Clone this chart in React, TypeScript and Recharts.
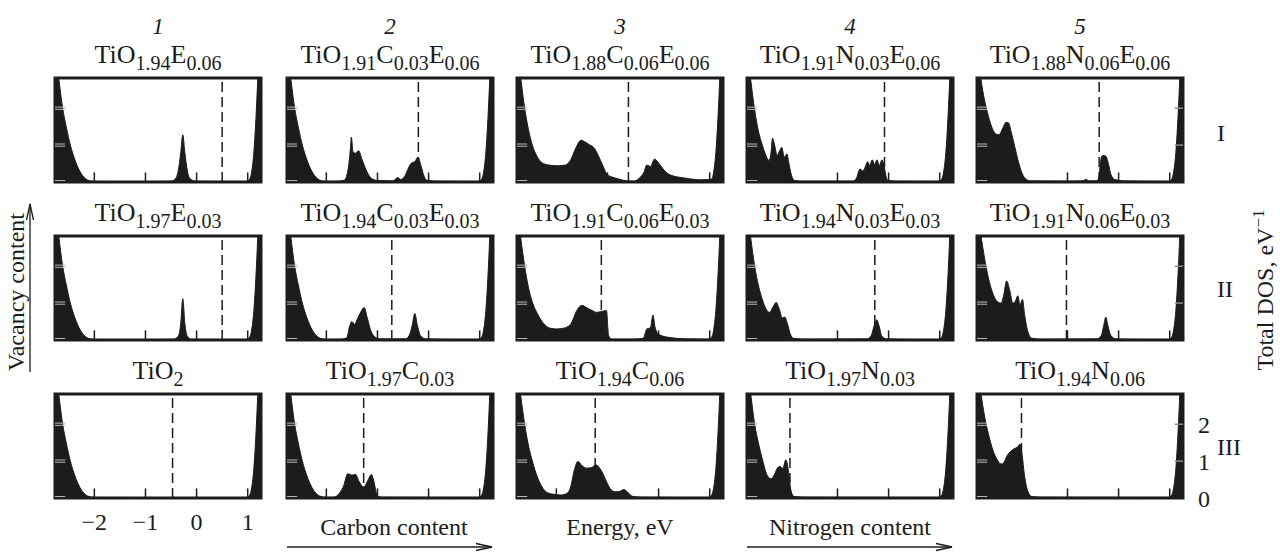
import { ComposedChart, Area, XAxis, YAxis, ReferenceLine, ReferenceArea } from 'recharts';

const INK = '#1c1c1c';
const FONT = '"Liberation Serif", "DejaVu Serif", serif';

// axis ranges (eV / states per eV)
const E_MIN = -2.77;
const E_MAX = 1.26;
const DOS_MAX = 2.82;
const energyTicks = [-2, -1, 0, 1];
const dosTicks = [0, 1, 2];

const columnNumbers = ['1', '2', '3', '4', '5'];
const rowLabels = ['I', 'II', 'III'];

// panel titles: [element, index] pairs
const titlesI = [
  [['TiO', '1.94'], ['E', '0.06']],
  [['TiO', '1.91'], ['C', '0.03'], ['E', '0.06']],
  [['TiO', '1.88'], ['C', '0.06'], ['E', '0.06']],
  [['TiO', '1.91'], ['N', '0.03'], ['E', '0.06']],
  [['TiO', '1.88'], ['N', '0.06'], ['E', '0.06']],
];
const titlesII = [
  [['TiO', '1.97'], ['E', '0.03']],
  [['TiO', '1.94'], ['C', '0.03'], ['E', '0.03']],
  [['TiO', '1.91'], ['C', '0.06'], ['E', '0.03']],
  [['TiO', '1.94'], ['N', '0.03'], ['E', '0.03']],
  [['TiO', '1.91'], ['N', '0.06'], ['E', '0.03']],
];
const titlesIII = [
  [['TiO', '2']],
  [['TiO', '1.97'], ['C', '0.03']],
  [['TiO', '1.94'], ['C', '0.06']],
  [['TiO', '1.97'], ['N', '0.03']],
  [['TiO', '1.94'], ['N', '0.06']],
];

// Fermi level (dashed line) per panel
const fermiI = [0.5, -0.2, -0.59, -0.08, -0.38];
const fermiII = [0.5, -0.72, -1.12, -0.27, -1.02];
const fermiIII = [-0.47, -1.27, -1.24, -1.93, -1.9];

// [energy, DOS] points
const valenceEdge = [
  [-2.77, 3.6], [-2.7, 2.85], [-2.62, 2.0], [-2.55, 1.5], [-2.47, 1.0], [-2.38, 0.6],
  [-2.28, 0.28], [-2.18, 0.1], [-2.08, 0.03], [-1.98, 0.015],
];
const conductionEdge = [
  [0.98, 0.015], [1.04, 0.08], [1.08, 0.3], [1.12, 0.8], [1.16, 1.7], [1.2, 2.9], [1.24, 4.2], [1.26, 4.8],
];

const dosI1 = [
  ...valenceEdge,
  [-1.0, 0.01], [-0.5, 0.02], [-0.42, 0.08], [-0.36, 0.3], [-0.31, 0.8], [-0.27, 1.28],
  [-0.23, 0.8], [-0.18, 0.3], [-0.12, 0.08], [0.0, 0.02], [0.5, 0.015],
  ...conductionEdge,
];
const dosI2 = [
  ...valenceEdge,
  [-1.8, 0.02], [-1.65, 0.05], [-1.58, 0.3], [-1.53, 0.9], [-1.51, 1.22], [-1.48, 0.82],
  [-1.43, 0.78], [-1.37, 0.85], [-1.3, 0.6], [-1.23, 0.35], [-1.12, 0.1], [-1.0, 0.04],
  [-0.7, 0.03], [-0.6, 0.12], [-0.55, 0.07], [-0.47, 0.15], [-0.42, 0.3], [-0.34, 0.51],
  [-0.27, 0.55], [-0.21, 0.67], [-0.15, 0.45], [-0.1, 0.2], [-0.04, 0.05], [0.2, 0.02],
  ...conductionEdge,
];
const dosI3 = [
  [-2.77, 3.6], [-2.7, 2.85], [-2.62, 2.0], [-2.55, 1.45], [-2.47, 1.0], [-2.38, 0.7],
  [-2.28, 0.52], [-2.15, 0.46], [-1.98, 0.44], [-1.82, 0.46], [-1.72, 0.6], [-1.62, 0.92],
  [-1.52, 1.13], [-1.43, 1.08], [-1.35, 1.01], [-1.26, 0.92], [-1.18, 0.72], [-1.09, 0.44],
  [-1.01, 0.21], [-0.92, 0.14], [-0.8, 0.09], [-0.63, 0.03], [-0.5, 0.02], [-0.38, 0.1],
  [-0.29, 0.26], [-0.23, 0.46], [-0.16, 0.42], [-0.08, 0.62], [0.03, 0.46], [0.12, 0.3],
  [0.25, 0.18], [0.5, 0.11], [0.84, 0.06],
  ...conductionEdge.slice(1),
];
const dosI4 = [
  [-2.77, 3.6], [-2.7, 2.8], [-2.62, 1.95], [-2.55, 1.4], [-2.47, 1.0], [-2.4, 0.72],
  [-2.34, 0.58], [-2.3, 0.8], [-2.27, 1.19], [-2.23, 1.0], [-2.18, 0.72], [-2.13, 0.85],
  [-2.09, 0.94], [-2.04, 0.67], [-1.99, 0.76], [-1.95, 0.5], [-1.9, 0.18], [-1.84, 0.04],
  [-1.7, 0.02], [-0.7, 0.02], [-0.63, 0.1], [-0.56, 0.35], [-0.5, 0.3], [-0.46, 0.4],
  [-0.41, 0.55], [-0.37, 0.45], [-0.32, 0.6], [-0.27, 0.47], [-0.23, 0.6], [-0.18, 0.45],
  [-0.13, 0.6], [-0.09, 0.45], [-0.05, 0.15], [-0.01, 0.04], [0.2, 0.02],
  ...conductionEdge,
];
const dosI5 = [
  [-2.77, 3.6], [-2.7, 2.85], [-2.62, 2.2], [-2.55, 1.8], [-2.47, 1.45], [-2.4, 1.3],
  [-2.34, 1.28], [-2.27, 1.45], [-2.2, 1.62], [-2.15, 1.6], [-2.1, 1.35], [-2.03, 0.95],
  [-1.96, 0.55], [-1.9, 0.28], [-1.83, 0.1], [-1.72, 0.03], [-1.0, 0.02], [-0.7, 0.03],
  [-0.64, 0.07], [-0.58, 0.03], [-0.44, 0.03], [-0.39, 0.1], [-0.36, 0.45], [-0.33, 0.7],
  [-0.28, 0.72], [-0.24, 0.68], [-0.2, 0.5], [-0.15, 0.2], [-0.08, 0.07], [0.1, 0.03],
  ...conductionEdge,
];

const dosII1 = [
  ...valenceEdge,
  [-1.0, 0.01], [-0.45, 0.02], [-0.36, 0.1], [-0.31, 0.45], [-0.27, 1.12], [-0.23, 0.45],
  [-0.18, 0.1], [-0.1, 0.02], [0.5, 0.015],
  ...conductionEdge,
];
const dosII2 = [
  ...valenceEdge,
  [-1.7, 0.02], [-1.6, 0.06], [-1.55, 0.35], [-1.5, 0.5], [-1.45, 0.42], [-1.4, 0.55],
  [-1.33, 0.75], [-1.26, 0.88], [-1.2, 0.6], [-1.13, 0.25], [-1.05, 0.08], [-0.95, 0.03],
  [-0.45, 0.03], [-0.38, 0.12], [-0.32, 0.4], [-0.27, 0.72], [-0.22, 0.4], [-0.15, 0.1],
  [-0.05, 0.03], [0.5, 0.015],
  ...conductionEdge,
];
const dosII3 = [
  [-2.77, 3.6], [-2.7, 2.8], [-2.62, 2.0], [-2.55, 1.45], [-2.45, 0.95], [-2.37, 0.71],
  [-2.25, 0.45], [-2.12, 0.32], [-2.0, 0.3], [-1.86, 0.32], [-1.72, 0.43], [-1.6, 0.8],
  [-1.5, 0.94], [-1.4, 0.87], [-1.3, 0.8], [-1.21, 0.75], [-1.12, 0.77], [-1.02, 0.8],
  [-0.98, 0.13], [-0.92, 0.02], [-0.5, 0.02], [-0.3, 0.05], [-0.23, 0.3], [-0.16, 0.33],
  [-0.11, 0.68], [-0.07, 0.35], [0.0, 0.16], [0.16, 0.08], [0.55, 0.03], [0.95, 0.02],
  ...conductionEdge.slice(1),
];
const dosII4 = [
  [-2.77, 3.6], [-2.7, 2.8], [-2.62, 2.0], [-2.55, 1.5], [-2.47, 1.1], [-2.4, 0.85],
  [-2.33, 0.75], [-2.26, 0.9], [-2.2, 1.02], [-2.14, 0.85], [-2.08, 0.6], [-2.03, 0.62],
  [-1.98, 0.45], [-1.92, 0.15], [-1.85, 0.04], [-1.6, 0.02], [-0.42, 0.03], [-0.34, 0.12],
  [-0.28, 0.4], [-0.23, 0.55], [-0.19, 0.4], [-0.13, 0.1], [-0.04, 0.03], [0.5, 0.015],
  ...conductionEdge,
];
const dosII5 = [
  [-2.77, 3.6], [-2.7, 2.9], [-2.62, 2.2], [-2.55, 1.7], [-2.47, 1.3], [-2.38, 1.05],
  [-2.3, 1.0], [-2.25, 1.2], [-2.19, 1.6], [-2.13, 1.35], [-2.07, 1.0], [-2.02, 1.05],
  [-1.97, 1.2], [-1.93, 0.95], [-1.88, 1.1], [-1.84, 0.7], [-1.78, 0.25], [-1.7, 0.05],
  [-1.5, 0.02], [-0.42, 0.03], [-0.34, 0.12], [-0.29, 0.4], [-0.25, 0.62], [-0.21, 0.4],
  [-0.15, 0.12], [-0.05, 0.03], [0.5, 0.015],
  ...conductionEdge,
];

const dosIII1 = [...valenceEdge, [0.5, 0.01], ...conductionEdge];
const dosIII2 = [
  ...valenceEdge,
  [-1.85, 0.02], [-1.75, 0.12], [-1.67, 0.3], [-1.58, 0.66], [-1.5, 0.62], [-1.43, 0.64],
  [-1.36, 0.45], [-1.27, 0.3], [-1.18, 0.5], [-1.12, 0.64], [-1.07, 0.45], [-1.01, 0.08],
  [-0.93, 0.02], [0.5, 0.015],
  ...conductionEdge,
];
const dosIII3 = [
  [-2.77, 3.6], [-2.7, 2.8], [-2.62, 2.0], [-2.55, 1.45], [-2.47, 1.0], [-2.38, 0.6],
  [-2.28, 0.3], [-2.18, 0.15], [-2.05, 0.1], [-1.9, 0.08], [-1.8, 0.12], [-1.72, 0.3],
  [-1.65, 0.75], [-1.58, 0.99], [-1.5, 0.88], [-1.41, 0.81], [-1.32, 0.82], [-1.23, 0.9],
  [-1.12, 0.74], [-1.02, 0.45], [-0.95, 0.26], [-0.85, 0.17], [-0.78, 0.17], [-0.68, 0.23],
  [-0.6, 0.15], [-0.5, 0.04], [-0.3, 0.02], [0.5, 0.015],
  ...conductionEdge,
];
const dosIII4 = [
  [-2.77, 3.6], [-2.7, 2.85], [-2.62, 2.0], [-2.54, 1.45], [-2.46, 1.0], [-2.37, 0.6],
  [-2.3, 0.52], [-2.24, 0.62], [-2.18, 0.8], [-2.13, 0.86], [-2.07, 0.8], [-2.01, 1.04],
  [-1.96, 0.75], [-1.91, 0.2], [-1.85, 0.04], [-1.6, 0.02], [0.5, 0.015],
  ...conductionEdge,
];
const dosIII5 = [
  [-2.77, 3.6], [-2.7, 2.9], [-2.62, 2.2], [-2.54, 1.7], [-2.46, 1.3], [-2.38, 1.05],
  [-2.3, 0.92], [-2.25, 0.95], [-2.18, 1.15], [-2.1, 1.28], [-2.02, 1.35], [-1.98, 1.38],
  [-1.93, 1.46], [-1.89, 1.2], [-1.84, 0.6], [-1.78, 0.2], [-1.7, 0.04], [-1.5, 0.02],
  [0.5, 0.015],
  ...conductionEdge,
];

const rows = [
  { titles: titlesI, fermi: fermiI, dos: [dosI1, dosI2, dosI3, dosI4, dosI5] },
  { titles: titlesII, fermi: fermiII, dos: [dosII1, dosII2, dosII3, dosII4, dosII5] },
  { titles: titlesIII, fermi: fermiIII, dos: [dosIII1, dosIII2, dosIII3, dosIII4, dosIII5] },
];

// layout
const PANEL_W = 206;
const PANEL_H = 104;
const PAD = 5;
const colLeft = [55, 287, 517, 747, 977];
const rowTop = [78, 236, 394];

const fmtEnergy = (v: number) => (v < 0 ? `\u2212${-v}` : `${v}`);

function Panel({ points, fermi, showX, showY, lastCol }: any) {
  const data = points.map(([e, dos]: number[]) => ({ e, dos }));
  const xH = showX ? 36 : 0;
  const yW = showY ? 40 : 0;
  const extraBottom = showY ? 16 : 0;
  return (
    <ComposedChart
      width={PANEL_W + 2 * PAD + yW}
      height={PANEL_H + 2 * PAD + xH + extraBottom}
      data={data}
      margin={{ top: PAD, right: PAD, bottom: PAD + extraBottom, left: PAD }}
    >
      <XAxis
        type="number"
        dataKey="e"
        domain={[E_MIN, E_MAX]}
        allowDataOverflow
        ticks={energyTicks}
        interval={0}
        hide={!showX}
        height={36}
        axisLine={false}
        tickLine={false}
        tickSize={6}
        tickMargin={9}
        tick={{ fill: INK, fontSize: 24, fontFamily: FONT }}
        tickFormatter={fmtEnergy}
      />
      <YAxis
        type="number"
        domain={[0, DOS_MAX]}
        allowDataOverflow
        orientation="right"
        ticks={dosTicks}
        interval={0}
        hide={!showY}
        width={40}
        axisLine={false}
        tickLine={false}
        tickSize={6}
        tickMargin={9}
        tick={{ fill: INK, fontSize: 24, fontFamily: FONT, textAnchor: 'start' }}
      />
      <Area
        type="monotone"
        dataKey="dos"
        stroke={INK}
        strokeWidth={1}
        fill={INK}
        fillOpacity={1}
        dot={false}
        activeDot={false}
        isAnimationActive={false}
      />
      {energyTicks.map((t) => (
        <ReferenceLine key={`t${t}`} segment={[{ x: t, y: 0 }, { x: t, y: 0.26 }]} stroke={INK} strokeWidth={1.5} />
      ))}
      {[0.97, 1.03, 1.97, 2.03, 0.04].map((lv) => (
        <ReferenceLine key={`l${lv}`} segment={[{ x: E_MIN, y: lv }, { x: E_MIN + 0.2, y: lv }]} stroke="#b8b8b8" strokeWidth={1} />
      ))}
      {lastCol &&
        [1, 2].map((lv) => (
          <ReferenceLine key={`r${lv}`} segment={[{ x: E_MAX - 0.16, y: lv }, { x: E_MAX, y: lv }]} stroke="#888" strokeWidth={1.5} />
        ))}
      <ReferenceLine x={fermi} stroke={INK} strokeWidth={1.5} strokeDasharray="10 5" />
      <ReferenceArea x1={E_MIN} x2={E_MAX} y1={0} y2={DOS_MAX} fill="none" stroke={INK} strokeWidth={3} ifOverflow="visible" />
    </ComposedChart>
  );
}

function Title({ parts, x, y }: any) {
  const spans: any[] = [];
  parts.forEach(([base, sub]: string[], i: number) => {
    spans.push(
      <tspan key={`b${i}`} dy={i === 0 ? 0 : -7}>
        {base}
      </tspan>
    );
    spans.push(
      <tspan key={`s${i}`} fontSize={20} dy={7}>
        {sub}
      </tspan>
    );
  });
  return (
    <text x={x} y={y} textAnchor="middle" fontSize={26} fontFamily={FONT} fill={INK}>
      {spans}
    </text>
  );
}

function Arrow({ x1, y1, x2, y2 }: any) {
  const dx = x2 - x1;
  const dy = y2 - y1;
  const len = Math.hypot(dx, dy);
  const ux = dx / len;
  const uy = dy / len;
  const bx = x2 - ux * 16;
  const by = y2 - uy * 16;
  return (
    <g stroke={INK} strokeWidth={1.3} fill="none">
      <line x1={x1} y1={y1} x2={x2} y2={y2} />
      <polyline points={`${bx - uy * 3.5},${by + ux * 3.5} ${x2},${y2} ${bx + uy * 3.5},${by - ux * 3.5}`} />
    </g>
  );
}

export default function App() {
  return (
    <div style={{ position: 'absolute', left: 0, top: 0, width: 1280, height: 552, background: '#fff', overflow: 'hidden' }}>
      {rows.map((row, r) =>
        row.dos.map((points, c) => (
          <div key={`${r}-${c}`} style={{ position: 'absolute', left: colLeft[c] - PAD, top: rowTop[r] - PAD }}>
            <Panel points={points} fermi={row.fermi[c]} showX={r === 2 && c === 0} showY={r === 2 && c === 4} lastCol={c === 4} />
          </div>
        ))
      )}
      <svg width={1280} height={552} style={{ position: 'absolute', left: 0, top: 0, pointerEvents: 'none' }}>
        {columnNumbers.map((n, c) => (
          <text key={n} x={colLeft[c] + PANEL_W / 2} y={34} textAnchor="middle" fontSize={23} fontStyle="italic" fontFamily={FONT} fill={INK}>
            {n}
          </text>
        ))}
        {rows.map((row, r) =>
          row.titles.map((parts, c) => <Title key={`t${r}${c}`} parts={parts} x={colLeft[c] + PANEL_W / 2} y={rowTop[r] - 15} />)
        )}
        {rowLabels.map((lab, r) => (
          <text key={lab} x={1217} y={[141, 297, 455][r]} fontSize={24} fontFamily={FONT} fill={INK}>
            {lab}
          </text>
        ))}
        <text transform="translate(1273,290) rotate(-90)" textAnchor="middle" fontSize={24} fontFamily={FONT} fill={INK}>
          Total DOS, eV
          <tspan fontSize={17} dy={-9}>
            {'\u22121'}
          </tspan>
        </text>
        <text transform="translate(24,292) rotate(-90)" textAnchor="middle" fontSize={24} fontFamily={FONT} fill={INK}>
          Vacancy content
        </text>
        <Arrow x1={30} y1={372} x2={30} y2={204} />
        <text x={394} y={535} textAnchor="middle" fontSize={24} fontFamily={FONT} fill={INK}>
          Carbon content
        </text>
        <text x={620} y={535} textAnchor="middle" fontSize={24} fontFamily={FONT} fill={INK}>
          Energy, eV
        </text>
        <text x={850} y={535} textAnchor="middle" fontSize={24} fontFamily={FONT} fill={INK}>
          Nitrogen content
        </text>
        <Arrow x1={287} y1={547} x2={492} y2={547} />
        <Arrow x1={747} y1={547} x2={952} y2={547} />
      </svg>
    </div>
  );
}
